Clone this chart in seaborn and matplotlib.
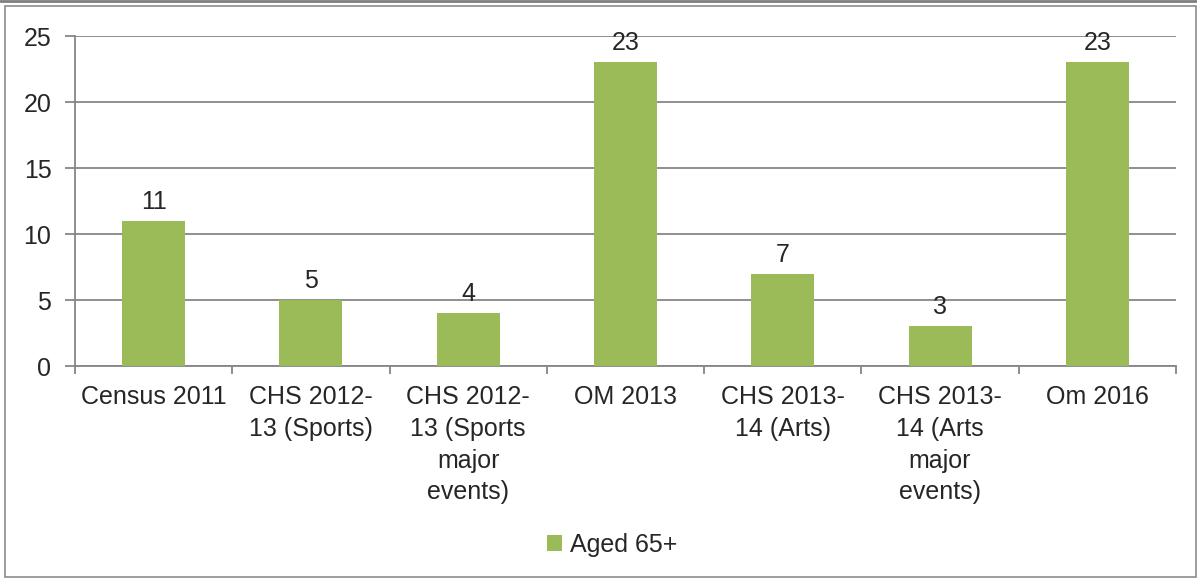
import matplotlib
matplotlib.use("Agg")
import matplotlib.pyplot as plt
import matplotlib.patches as mpatches
import pandas as pd
import seaborn as sns

categories = [
    "Census 2011",
    "CHS 2012-\n13 (Sports)",
    "CHS 2012-\n13 (Sports\nmajor\nevents)",
    "OM 2013",
    "CHS 2013-\n14 (Arts)",
    "CHS 2013-\n14 (Arts\nmajor\nevents)",
    "Om 2016",
]
values = [11, 5, 4, 23, 7, 3, 23]
series_name = "Aged 65+"
yticks = [0, 5, 10, 15, 20, 25]

GREEN = "#9BBB59"
GRID = "#868686"
FS = 18

sns.set_style("white")
plt.rcParams["font.family"] = ["Liberation Sans", "DejaVu Sans"]

df = pd.DataFrame({"category": categories, "value": values, "series": series_name})

W, H = 1197, 578
fig = plt.figure(figsize=(W / 100, H / 100), dpi=100)
ax = fig.add_axes([75 / W, 1 - 366 / H, (1176 - 75) / W, (366 - 36) / H])

sns.barplot(data=df, x="category", y="value", hue="series", palette=[GREEN],
            width=0.4, ax=ax, zorder=3, saturation=1, linewidth=0, legend=True)

ax.set_ylim(0, 25)
ax.set_xlim(-0.5, len(categories) - 0.5)
ax.set_yticks(yticks)
ax.yaxis.grid(True, color=GRID, linewidth=1.3, zorder=0)
ax.set_axisbelow(True)
ax.set_xlabel("")
ax.set_ylabel("")

for side in ["top", "right"]:
    ax.spines[side].set_visible(False)
for side in ["left", "bottom"]:
    ax.spines[side].set_color(GRID)
    ax.spines[side].set_linewidth(1.3)

ax.tick_params(axis="y", length=7, color=GRID, width=1.3, labelsize=FS, pad=10, left=True)
ax.set_xticks(range(len(categories)))
ax.set_xticklabels(categories, fontsize=FS, linespacing=1.4, va="top")
ax.tick_params(axis="x", length=0, pad=14)
# category boundary ticks
ax.set_xticks([i - 0.5 for i in range(len(categories) + 1)], minor=True)
ax.tick_params(axis="x", which="minor", length=6, color=GRID, width=1.3, bottom=True)

for c in ax.containers:
    ax.bar_label(c, labels=[str(v) for v in values], padding=5, fontsize=FS)

leg = ax.legend(loc="center", bbox_to_anchor=(612 / W, 1 - 545 / H),
                bbox_transform=fig.transFigure, frameon=False, fontsize=FS,
                handlelength=0.6, handleheight=0.6, handletextpad=0.3)

# outer chart border
fig.patches.append(mpatches.Rectangle((5 / W, 1 / H), (W - 6) / W, (H - 7) / H,
                                      transform=fig.transFigure, fill=False,
                                      edgecolor="#8c8c8c", linewidth=1.2))
fig.add_artist(plt.Line2D([0, 1], [1 - 1 / H, 1 - 1 / H], transform=fig.transFigure,
                          color="#7f7f7f", linewidth=2))

fig.savefig("out.png", dpi=100)
